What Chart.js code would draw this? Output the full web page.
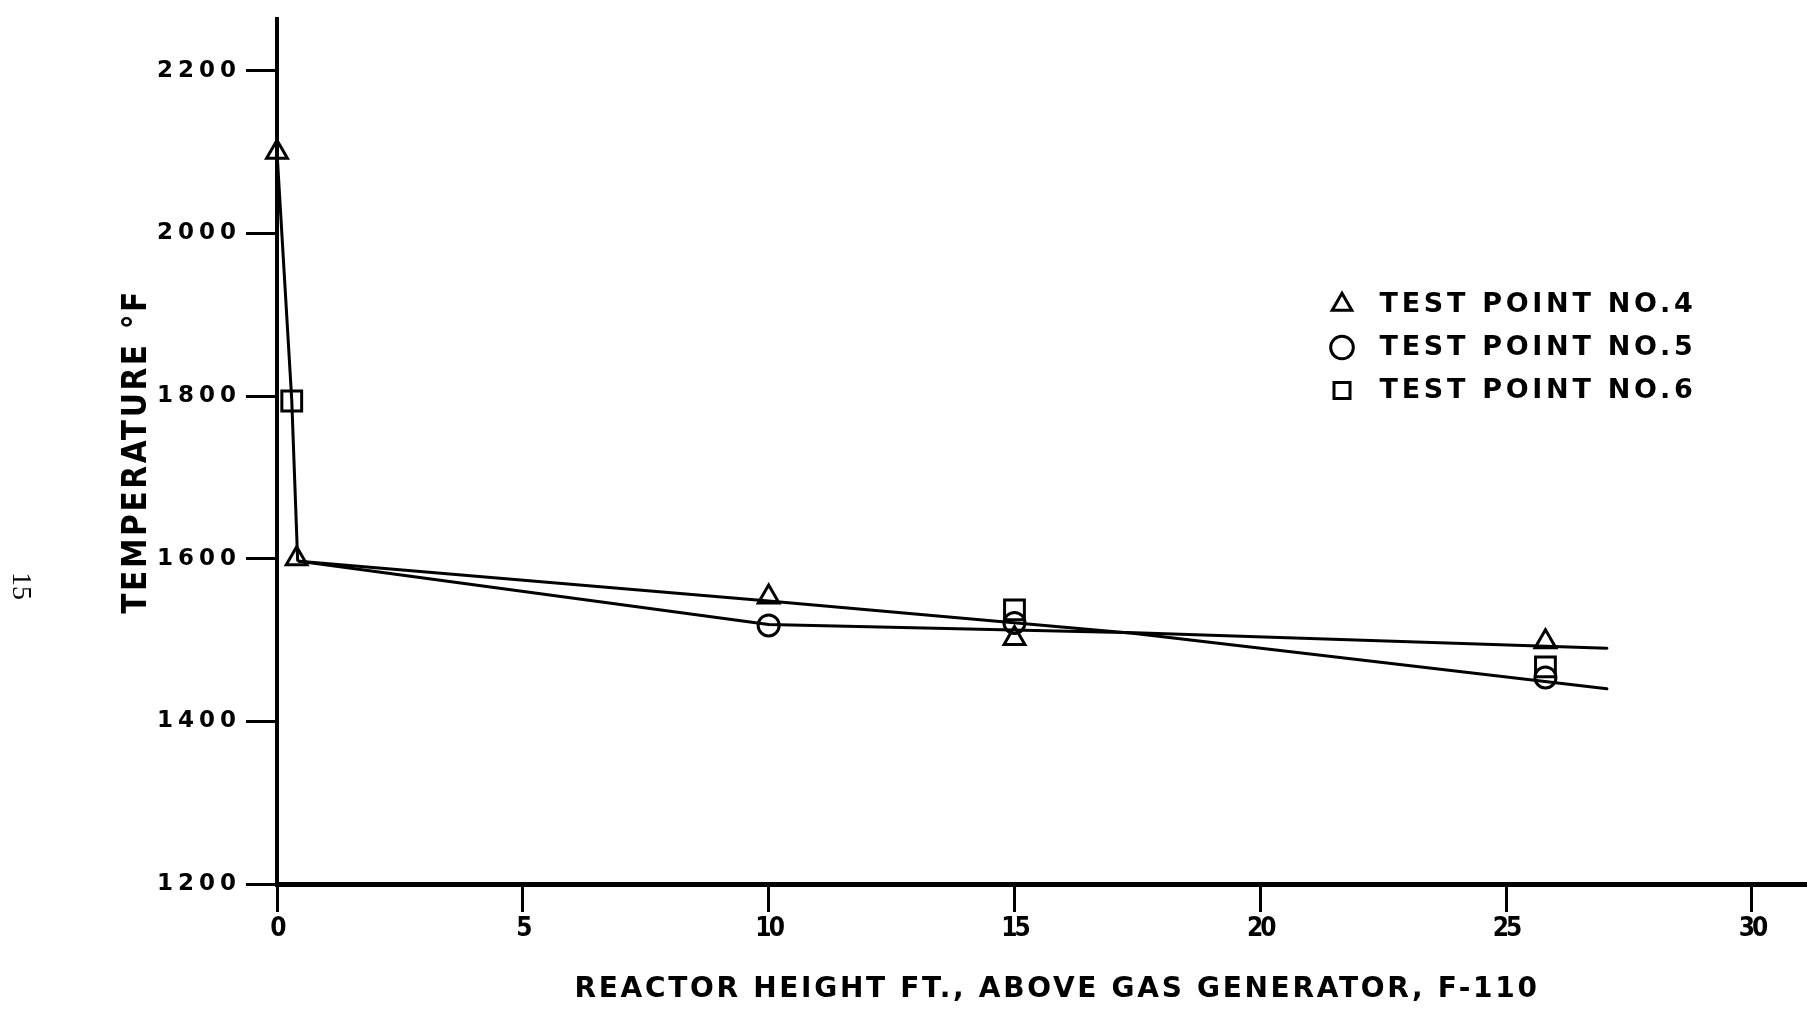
<!DOCTYPE html>
<html>
<head>
<meta charset="utf-8">
<title>Reactor temperature profile</title>
<script src="https://cdn.jsdelivr.net/npm/chart.js@4"></script>
<style>
  html, body { margin: 0; padding: 0; background: #fff; overflow: hidden; }
  #wrap { position: relative; width: 1807px; height: 1010px; overflow: hidden; }
  #chart { position: absolute; left: 0; top: 0; }
  #folio {
    position: absolute; left: 22px; top: 586px;
    transform: translate(-50%, -50%) rotate(90deg);
    font: 28px "Liberation Serif", serif; color: #000;
  }
</style>
</head>
<body>
<div id="wrap">
  <canvas id="chart" width="1837" height="1010"></canvas>
  <div id="folio">15</div>
</div>
<script>
// test point readings, ft above gas generator / deg F
const heightNo4 = [0, 0.4, 10, 15, 25.8];
const tempNo4 = [2100, 1600, 1553, 1502, 1498];
const heightNo5 = [10, 15, 25.8];
const tempNo5 = [1518, 1521, 1454];
const heightNo6 = [0.3, 15, 25.8];
const tempNo6 = [1794, 1537, 1467];

// faired curves as drawn through the points
const entryHeight = [0, 0.3, 0.42];
const entryTemp = [2100, 1795, 1598];
const flatHeight = [0.45, 10, 17.45, 27.05];
const flatTemp = [1597, 1519, 1509, 1490];
const steepHeight = [0.45, 10, 17.45, 27.05];
const steepTemp = [1597, 1548, 1508, 1440];

const xTickValues = [0, 5, 10, 15, 20, 25, 30];
const yTickValues = [1200, 1400, 1600, 1800, 2000, 2200];
const legendNames = ["TEST POINT NO.4", "TEST POINT NO.5", "TEST POINT NO.6"];

const pairs = (xs, ys) => xs.map((x, i) => ({ x: x, y: ys[i] }));

const wide = "DejaVu Sans";
const narrow = "'DejaVu Sans Condensed', 'Liberation Sans Narrow', 'DejaVu Sans'";

// the hand lettering is spaced out, canvas text is not: add letter spacing by text size
const tracking = { 23: 5, 26: -3, 27: 3.7, 28: 2.7, 33: 2.6 };
const canvas = document.getElementById("chart");
const ctx = canvas.getContext("2d");
const plainFillText = ctx.fillText.bind(ctx);
ctx.fillText = (text, x, y, maxWidth) => {
  const m = /(\d+(?:\.\d+)?)px/.exec(ctx.font);
  const size = m ? Math.round(parseFloat(m[1])) : 0;
  ctx.letterSpacing = (tracking[size] || 0) + "px";
  plainFillText(text, x, y, maxWidth);
  ctx.letterSpacing = "0px";
};

// legend sits at the right, inside the plot
const legendSpot = {
  id: "legendSpot",
  afterLayout(chart) {
    const lg = chart.legend;
    lg.left = 1315;
    lg.top = 275;
    lg.right = 1807;
    lg.bottom = 480;
  },
};

const marker = (label, xs, ys, style, radius) => ({
  label: label,
  data: pairs(xs, ys),
  pointStyle: style,
  pointRadius: radius,
  pointBorderWidth: 3,
  borderColor: "#000",
  backgroundColor: "rgba(0,0,0,0)",
  borderWidth: 3,
  showLine: false,
  clip: false,
});

const curve = (xs, ys) => ({
  data: pairs(xs, ys),
  showLine: true,
  pointRadius: 0,
  borderColor: "#000",
  borderWidth: 3,
  borderCapStyle: "round",
  borderJoinStyle: "round",
  tension: 0,
  clip: false,
});

new Chart(ctx, {
  type: "scatter",
  data: {
    datasets: [
      marker(legendNames[0], heightNo4, tempNo4, "triangle", 12),
      marker(legendNames[1], heightNo5, tempNo5, "circle", 10.5),
      marker(legendNames[2], heightNo6, tempNo6, "rect", 14),
      curve(entryHeight, entryTemp),
      curve(flatHeight, flatTemp),
      curve(steepHeight, steepTemp),
    ],
  },
  options: {
    responsive: false,
    animation: false,
    devicePixelRatio: 1,
    layout: {
      autoPadding: false,
      padding: { top: 12, left: 0, right: 0, bottom: 0 },
    },
    plugins: {
      tooltip: { enabled: false },
      legend: {
        position: "chartArea",
        align: "start",
        labels: {
          usePointStyle: true,
          boxWidth: 22,
          boxHeight: 16,
          padding: 16,
          color: "#000",
          font: { family: wide, size: 27, weight: "bold" },
          generateLabels(chart) {
            return Chart.defaults.plugins.legend.labels
              .generateLabels(chart)
              .filter((item) => item.datasetIndex < 3)
              .map((item) => ({ ...item, text: " " + item.text }));
          },
        },
      },
    },
    scales: {
      x: {
        type: "linear",
        min: 0,
        max: 31.73,
        afterBuildTicks: (scale) => {
          scale.ticks = xTickValues.map((v) => ({ value: v }));
        },
        afterFit: (scale) => {
          scale.height = 126;
        },
        border: { color: "#000", width: 5 },
        grid: {
          drawOnChartArea: false,
          drawTicks: true,
          tickLength: 28,
          tickWidth: 3,
          color: "#000",
        },
        ticks: {
          color: "#000",
          padding: 2,
          maxRotation: 0,
          font: { family: narrow, size: 26, weight: "bold" },
        },
        title: {
          display: true,
          text: "REACTOR HEIGHT FT., ABOVE GAS GENERATOR, F-110",
          color: "#000",
          font: { family: wide, size: 28, weight: "bold" },
          padding: { top: 0, bottom: 3 },
        },
      },
      y: {
        type: "linear",
        min: 1200,
        max: 2264,
        afterBuildTicks: (scale) => {
          scale.ticks = yTickValues.map((v) => ({ value: v }));
        },
        afterFit: (scale) => {
          scale.width = 277;
        },
        border: { color: "#000", width: 4 },
        grid: {
          drawOnChartArea: false,
          drawTicks: true,
          tickLength: 31,
          tickWidth: 3,
          color: "#000",
        },
        ticks: {
          color: "#000",
          padding: 5,
          font: { family: wide, size: 23, weight: "bold" },
          callback: (value) => String(value),
        },
        title: {
          display: true,
          text: "TEMPERATURE °F",
          color: "#000",
          font: { family: narrow, size: 33, weight: "bold" },
          padding: { top: 118, bottom: 0 },
        },
      },
    },
  },
  plugins: [legendSpot],
});
</script>
</body>
</html>
